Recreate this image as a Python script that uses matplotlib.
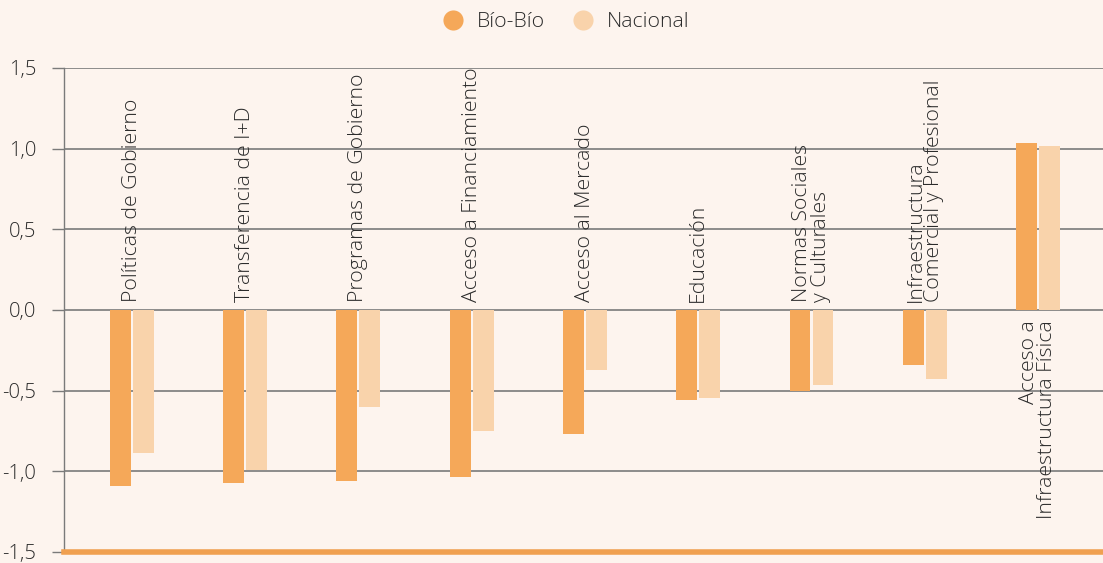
import matplotlib
matplotlib.use("Agg")
import matplotlib.pyplot as plt
from matplotlib.lines import Line2D
import numpy as np

categories = [
    "Políticas de Gobierno",
    "Transferencia de I+D",
    "Programas de Gobierno",
    "Acceso a Financiamiento",
    "Acceso al Mercado",
    "Educación",
    "Normas Sociales\ny Culturales",
    "Infraestructura\nComercial y Profesional",
    "Acceso a\nInfraestructura Física",
]
biobio = [-1.09, -1.07, -1.06, -1.035, -0.77, -0.56, -0.50, -0.34, 1.035]
nacional = [-0.885, -0.99, -0.60, -0.75, -0.37, -0.545, -0.465, -0.43, 1.017]
series_names = ["Bío-Bío", "Nacional"]
yticks = [-1.5, -1.0, -0.5, 0.0, 0.5, 1.0, 1.5]

BG = "#fdf4ee"
C1 = "#f5a859"
C2 = "#f9d3ab"
GRID = "#7a7a7a"
TXT = "#2a2a2a"
FONT = "Open Sans"
FW = "light"
FS = 15.3

plt.rcParams['font.family'] = [FONT, 'DejaVu Sans']
plt.rcParams['font.weight'] = FW

fig = plt.figure(figsize=(11.03, 5.63), dpi=100, facecolor=BG)
ax = fig.add_axes([64/1103, 1-552/563, 1-64/1103, (552-68)/563])
ax.set_facecolor(BG)

x = np.arange(len(categories))
w = 0.185
off = 0.1015
ax.bar(x - off, biobio, width=w, color=C1, zorder=3)
ax.bar(x + off, nacional, width=w, color=C2, zorder=3)

ax.set_xlim(-0.60, 8.574)
ax.set_ylim(-1.5, 1.5)
ax.set_yticks(yticks)
ax.set_yticklabels([f"{t:.1f}".replace(".", ",") for t in yticks], color=TXT,
                   fontsize=14.5, fontweight=FW)
ax.set_xticks([])
ax.tick_params(axis='y', length=9, width=1, color=GRID, pad=11)
ax.grid(axis='y', color=GRID, lw=1.2, zorder=1)

for s in ["top", "right", "bottom"]:
    ax.spines[s].set_visible(False)
ax.spines["left"].set_color(GRID)
ax.spines["left"].set_linewidth(1)

ax.axhline(-1.5, color="#f0a050", lw=4, zorder=4, clip_on=False)

for i, (cat, b) in enumerate(zip(categories, biobio)):
    if b < 0:
        ax.text(i, 0.05, cat, rotation=90, ha='center', va='bottom',
                multialignment='left', fontsize=FS, fontweight=FW, color=TXT,
                linespacing=0.9, zorder=5)
    else:
        ax.text(i, -0.065, cat, rotation=90, ha='center', va='top',
                multialignment='right', fontsize=FS, fontweight=FW, color=TXT,
                linespacing=0.9, zorder=5)

handles = [Line2D([], [], marker='o', ls='', markersize=14.5, color=c, markeredgewidth=0)
           for c in (C1, C2)]
fig.legend(handles, series_names, loc='center', bbox_to_anchor=(566/1103, 1-22/563),
           ncol=2, frameon=False, prop={'size': FS, 'weight': FW},
           handletextpad=0.6, columnspacing=1.3, labelcolor=TXT, handlelength=1.0)

fig.savefig("out.png", dpi=100, facecolor=BG)
